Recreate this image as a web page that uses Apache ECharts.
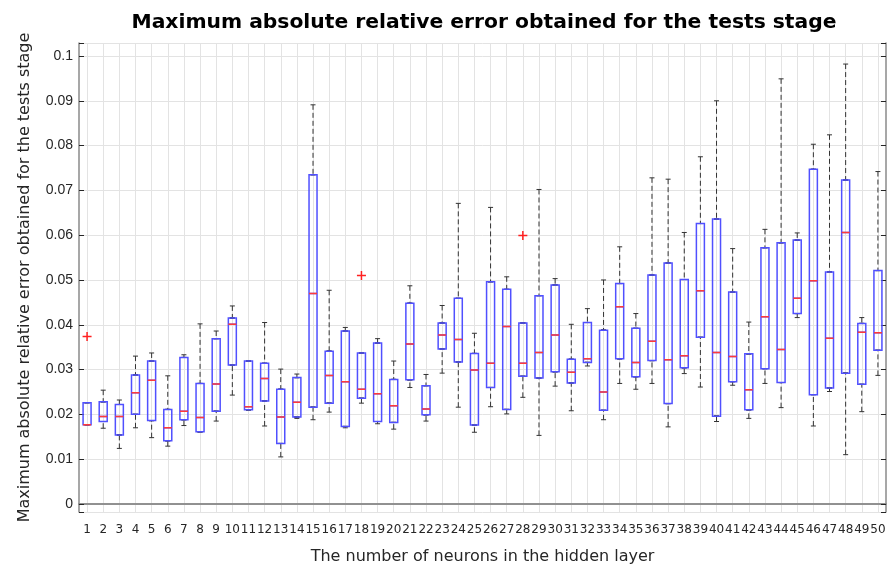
<!DOCTYPE html>
<html><head><meta charset="utf-8">
<script src="https://cdn.jsdelivr.net/npm/echarts@6/dist/echarts.min.js"></script>
<style>html,body{margin:0;padding:0;background:#fff}#c{width:891px;height:570px}</style>
</head><body><div id="c"></div>
<script>
const categories = ['1','2','3','4','5','6','7','8','9','10','11','12','13','14','15','16','17','18','19','20','21','22','23','24','25','26','27','28','29','30','31','32','33','34','35','36','37','38','39','40','41','42','43','44','45','46','47','48','49','50'];
const whiskerLow = [0.0176,0.0169,0.0124,0.0170,0.0148,0.0129,0.0175,0.0161,0.0185,0.0243,
  0.0210,0.0174,0.0105,0.0191,0.0188,0.0205,0.0170,0.0225,0.0179,0.0167,
  0.0260,0.0185,0.0292,0.0216,0.0160,0.0217,0.0201,0.0238,0.0153,0.0263,
  0.0208,0.0308,0.0188,0.0269,0.0256,0.0269,0.0172,0.0291,0.0261,0.0184,
  0.0265,0.0191,0.0269,0.0215,0.0416,0.0174,0.0251,0.0110,0.0206,0.0287];
const q1 = [0.0177,0.0184,0.0154,0.0200,0.0186,0.0141,0.0188,0.0161,0.0207,0.0310,
  0.0210,0.0230,0.0135,0.0194,0.0216,0.0225,0.0173,0.0236,0.0184,0.0182,
  0.0277,0.0199,0.0346,0.0317,0.0176,0.0260,0.0211,0.0285,0.0281,0.0295,
  0.0270,0.0316,0.0209,0.0324,0.0284,0.0320,0.0224,0.0304,0.0372,0.0196,
  0.0273,0.0210,0.0302,0.0271,0.0425,0.0244,0.0259,0.0292,0.0267,0.0343];
const medians = [0.0177,0.0195,0.0195,0.0248,0.0276,0.0170,0.0207,0.0193,0.0268,0.0401,
  0.0217,0.0280,0.0194,0.0227,0.0470,0.0287,0.0273,0.0256,0.0246,0.0219,
  0.0357,0.0212,0.0377,0.0367,0.0299,0.0314,0.0396,0.0314,0.0338,0.0377,
  0.0294,0.0324,0.0250,0.0440,0.0316,0.0363,0.0322,0.0331,0.0476,0.0338,
  0.0329,0.0255,0.0418,0.0345,0.0459,0.0498,0.0370,0.0606,0.0383,0.0382];
const q3 = [0.0226,0.0228,0.0222,0.0288,0.0319,0.0211,0.0327,0.0269,0.0369,0.0415,
  0.0319,0.0314,0.0256,0.0282,0.0735,0.0341,0.0386,0.0337,0.0359,0.0278,
  0.0448,0.0264,0.0404,0.0459,0.0336,0.0496,0.0479,0.0404,0.0465,0.0489,
  0.0323,0.0405,0.0388,0.0492,0.0392,0.0511,0.0538,0.0501,0.0626,0.0636,
  0.0473,0.0335,0.0572,0.0583,0.0589,0.0747,0.0518,0.0723,0.0403,0.0521];
const whiskerHigh = [0.0226,0.0254,0.0232,0.0330,0.0337,0.0286,0.0333,0.0402,0.0386,0.0442,
  0.0319,0.0405,0.0301,0.0290,0.0891,0.0477,0.0394,0.0337,0.0369,0.0319,
  0.0487,0.0289,0.0443,0.0671,0.0381,0.0662,0.0507,0.0404,0.0702,0.0503,
  0.0401,0.0436,0.0500,0.0574,0.0425,0.0728,0.0725,0.0606,0.0775,0.0900,
  0.0570,0.0406,0.0613,0.0949,0.0605,0.0803,0.0824,0.0982,0.0416,0.0742];
const outlierCats = ['1','18','28'];
const outlierValues = [0.0374,0.0510,0.0599];
const yTickValues = [0,0.01,0.02,0.03,0.04,0.05,0.06,0.07,0.08,0.09,0.1];

// boxplot items [min, Q1, median, Q3, max] built from the arrays above
const upperWhiskers = categories.map((c,i)=>[q3[i],q3[i],q3[i],q3[i],whiskerHigh[i]]);
const lowerWhiskers = categories.map((c,i)=>[whiskerLow[i],q1[i],q1[i],q1[i],q1[i]]);
const boxes = categories.map((c,i)=>[q1[i],q1[i],medians[i],q3[i],q3[i]]);
const medianMarks = categories.map((c,i)=>[medians[i],medians[i],medians[i],medians[i],medians[i]]);
const outData = outlierCats.map((c,i)=>[c, outlierValues[i]]);

const chart = echarts.init(document.getElementById('c'), null, {renderer:'canvas'});
const SANS = 'Liberation Sans, Arial, Helvetica, sans-serif';
const WIDE = 'DejaVu Sans, Verdana, sans-serif';
const yMin = -0.0018, yMax = 0.1029;

function yFmt(v){
  for (const t of yTickValues){ if (Math.abs(v-t) < 1e-7) return String(t); }
  return '';
}
function hiddenX(){
  return {type:'category', data:categories, boundaryGap:true, show:false};
}
function bp(data, axis, width, color, dash, lw, z){
  return {type:'boxplot', data:data, xAxisIndex:axis, yAxisIndex:0, boxWidth:[width,width],
    silent:true, z:z, animation:false,
    itemStyle:{color:'rgba(0,0,0,0)', borderColor:color, borderWidth:lw, borderType:dash || 'solid'},
    emphasis:{disabled:true}};
}

chart.setOption({
  animation:false,
  title:{text:'Maximum absolute relative error obtained for the tests stage', left:479, top:8, textAlign:'center',
    textStyle:{fontFamily:WIDE, fontSize:20.3, fontWeight:'bold', color:'#000'}},
  grid:{left:79, right:5, top:43, bottom:55, containLabel:false},
  xAxis:[{
    type:'category', data:categories, position:'bottom', boundaryGap:true,
    name:'The number of neurons in the hidden layer', nameLocation:'middle', nameGap:37,
    nameTextStyle:{fontFamily:WIDE, fontSize:16, color:'#262626'},
    axisLine:{lineStyle:{color:'#8a8a8a', width:1.5}},
    axisTick:{inside:true, alignWithLabel:true, length:5, lineStyle:{color:'#262626'}},
    axisLabel:{interval:0, margin:12, fontFamily:WIDE, fontSize:12, color:'#262626'},
    splitLine:{show:true, alignWithLabel:true, interval:0, lineStyle:{color:'#e3e3e3', width:1}}
  },{
    type:'category', data:categories, position:'top', boundaryGap:true,
    axisLine:{lineStyle:{color:'#8a8a8a', width:1.5}},
    axisTick:{inside:true, alignWithLabel:true, length:5, lineStyle:{color:'#262626'}},
    axisLabel:{show:false}, splitLine:{show:false}
  }, hiddenX(), hiddenX()],
  yAxis:[{
    type:'value', min:yMin, max:yMax, splitNumber:10, position:'left',
    name:'Maximum absolute relative error obtained for the tests stage', nameLocation:'middle', nameGap:46,
    nameTextStyle:{fontFamily:WIDE, fontSize:16, color:'#262626'},
    axisLine:{show:true, lineStyle:{color:'#8a8a8a', width:1.5}},
    axisTick:{show:true, inside:true, length:5, lineStyle:{color:'#262626'}},
    axisLabel:{formatter:yFmt, margin:6, fontFamily:SANS, fontSize:14, color:'#262626'},
    splitLine:{show:true, lineStyle:{color:'#e3e3e3', width:1}}
  },{
    type:'value', min:yMin, max:yMax, splitNumber:10, position:'right',
    axisLine:{show:true, lineStyle:{color:'#8a8a8a', width:1.5}},
    axisTick:{show:true, inside:true, length:5, lineStyle:{color:'#262626'}},
    axisLabel:{show:false}, splitLine:{show:false}
  }],
  series:[
    bp(upperWhiskers, 0, 5, '#333333', [5,3], 1, 2),
    bp(lowerWhiskers, 1, 5, '#333333', [5,3], 1, 2),
    bp(boxes, 2, 8, '#5050ff', null, 1.5, 4),
    bp(medianMarks, 3, 8, '#ff3a3a', null, 1.5, 5),
    {type:'scatter', data:outData, xAxisIndex:0, yAxisIndex:0, silent:true, z:6,
     symbol:'path://M3.75,0H5.25V9H3.75ZM0,3.75H9V5.25H0Z', symbolSize:9,
     itemStyle:{color:'#ff2020', opacity:1}}
  ]
});
</script>
</body></html>
